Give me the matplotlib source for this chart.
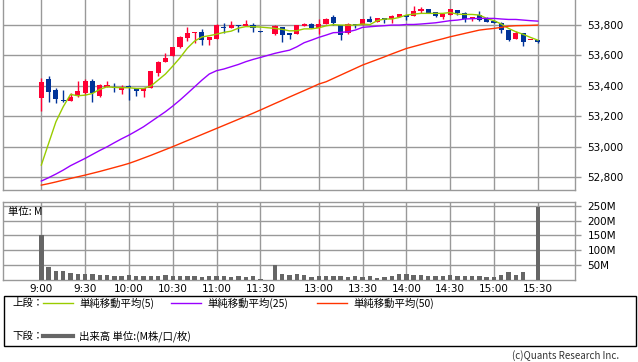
import numpy as np
import pandas as pd
import matplotlib
matplotlib.use("Agg")
import matplotlib.pyplot as plt
from matplotlib.lines import Line2D
from matplotlib.patches import Rectangle

plt.rcParams['font.family'] = ['Noto Sans CJK JP', 'DejaVu Sans']

# 5-minute bars, morning 9:00-11:30 and afternoon 12:30-15:30
am = pd.date_range("2025-01-01 09:00", "2025-01-01 11:30", freq="5min")
pm = pd.date_range("2025-01-01 12:30", "2025-01-01 15:30", freq="5min")
times = [t.strftime("%-H:%M") for t in am] + [t.strftime("%-H:%M") for t in pm]

opens = [53322, 53445, 53372, 53307, 53302, 53339, 53354, 53431, 53335, 53394,
         53394, 53372, 53399, 53383, 53368, 53388, 53482, 53556, 53594, 53657,
         53717, 53745, 53756, 53701, 53708, 53789, 53778, 53802, 53795, 53800,
         53763,
         53743, 53787, 53750, 53741, 53794, 53807, 53778, 53809, 53855, 53800,
         53745, 53807, 53800, 53841, 53822, 53844, 53839, 53855, 53866, 53861,
         53892, 53903, 53883, 53855, 53866, 53899, 53877, 53839, 53866, 53839,
         53828, 53815, 53767, 53708, 53745, 53701, 53701]
highs = [53454, 53465, 53383, 53372, 53350, 53432, 53443, 53445, 53410, 53430,
         53416, 53405, 53405, 53383, 53383, 53497, 53563, 53618, 53657, 53730,
         53789, 53756, 53776, 53723, 53809, 53812, 53824, 53802, 53833, 53811,
         53763,
         53800, 53789, 53750, 53800, 53816, 53811, 53837, 53844, 53864, 53800,
         53811, 53807, 53842, 53859, 53844, 53844, 53866, 53870, 53866, 53925,
         53916, 53903, 53883, 53870, 53903, 53899, 53888, 53855, 53892, 53853,
         53833, 53822, 53767, 53761, 53745, 53701, 53701]
lows = [53236, 53296, 53289, 53296, 53302, 53329, 53340, 53296, 53330, 53390,
        53361, 53346, 53310, 53335, 53330, 53383, 53465, 53554, 53594, 53651,
        53695, 53684, 53666, 53666, 53708, 53750, 53778, 53756, 53795, 53756,
        53756,
        53736, 53690, 53708, 53741, 53794, 53778, 53739, 53809, 53800, 53703,
        53740, 53778, 53800, 53822, 53822, 53815, 53815, 53855, 53831, 53861,
        53881, 53877, 53850, 53839, 53866, 53866, 53822, 53828, 53828, 53817,
        53811, 53750, 53695, 53708, 53662, 53701, 53684]
closes = [53427, 53361, 53311, 53298, 53328, 53366, 53431, 53350, 53405, 53405,
          53383, 53386, 53383, 53368, 53383, 53497, 53559, 53585, 53657, 53723,
          53750, 53756, 53701, 53723, 53800, 53778, 53800, 53793, 53807, 53778,
          53756,
          53794, 53736, 53736, 53800, 53804, 53778, 53807, 53842, 53811, 53738,
          53809, 53800, 53839, 53822, 53844, 53833, 53861, 53870, 53855, 53892,
          53905, 53877, 53861, 53870, 53903, 53877, 53839, 53855, 53833, 53817,
          53815, 53767, 53701, 53745, 53690, 53701, 53686]

ma5 = [52879, 53022, 53164, 53263, 53344, 53335, 53339, 53350, 53377, 53394,
       53390, 53388, 53388, 53383, 53383, 53399, 53438, 53478, 53530, 53585,
       53648, 53695, 53722, 53730, 53740, 53752, 53760, 53780, 53790, 53789,
       53787,
       53778, 53772, 53762, 53763, 53775, 53775, 53782, 53795, 53803, 53800,
       53800, 53800, 53807, 53803, 53829, 53840, 53840, 53850, 53866, 53872,
       53877, 53877, 53877, 53877, 53883, 53872, 53870, 53870, 53866, 53844,
       53829, 53807, 53778, 53756, 53739, 53719, 53701]
ma25 = [52774, 52796, 52820, 52846, 52875, 52899, 52923, 52949, 52975, 52999,
        53026, 53052, 53076, 53103, 53131, 53164, 53197, 53230, 53267, 53307,
        53350, 53394, 53438, 53478, 53500, 53511, 53526, 53541, 53559, 53574,
        53587,
        53614, 53625, 53635, 53657, 53684, 53701, 53719, 53734, 53750, 53752,
        53756, 53767, 53785, 53789, 53793, 53796, 53800, 53800, 53804, 53804,
        53807, 53811, 53815, 53822, 53829, 53833, 53840, 53842, 53844, 53844,
        53844, 53840, 53837, 53837, 53833, 53829, 53826]
ma50 = [52747, 52757, 52768, 52780, 52791, 52802, 52813, 52825, 52837, 52850,
        52863, 52876, 52890, 52907, 52925, 52943, 52962, 52981, 53000, 53020,
        53040, 53060, 53080, 53100, 53120, 53140, 53160, 53180, 53200, 53220,
        53241,
        53284, 53305, 53327, 53348, 53369, 53390, 53412, 53427, 53449, 53471,
        53493, 53515, 53537, 53555, 53573, 53591, 53610, 53628, 53646, 53659,
        53672, 53685, 53698, 53710, 53723, 53734, 53745, 53756, 53767, 53773,
        53778, 53785, 53793, 53796, 53797, 53798, 53800]

volume = [150, 44, 30, 30, 22, 20, 20, 19, 17, 17,
          13, 13, 17, 13, 13, 13, 13, 17, 13, 13,
          13, 13, 10, 13, 13, 13, 9, 13, 9, 13,
          4,
          50, 20, 17, 20, 17, 9, 13, 13, 13, 13,
          9, 13, 9, 13, 8, 9, 13, 20, 20, 17,
          17, 13, 13, 13, 17, 13, 13, 13, 13, 9,
          9, 17, 28, 17, 28, 1, 244]

xticklabels = ["9:00", "9:30", "10:00", "10:30", "11:00", "11:30",
               "13:00", "13:30", "14:00", "14:30", "15:00", "15:30"]
price_ticks = [52800, 53000, 53200, 53400, 53600, 53800]
vol_ticks = [50, 100, 150, 200, 250]

RED = "#ff0033"
BLUE = "#003399"
GRID = "#999999"

o = np.array(opens, float)
h = np.array(highs, float)
l = np.array(lows, float)
c = np.array(closes, float)
# one empty slot over the lunch break
pm_labels = set(t.strftime("%-H:%M") for t in pm)
x = np.arange(len(times)) + np.array([t in pm_labels for t in times], int)
tick_x = [x[times.index(t)] for t in xticklabels]

W, H = 638, 362
fig = plt.figure(figsize=(W / 100, H / 100), dpi=100)
ax = fig.add_axes([3 / W, 1 - 190 / H, 572 / W, 190 / H])
axv = fig.add_axes([3 / W, 1 - 280 / H, 572 / W, 78.5 / H])

up = c >= o
col = np.where(up, RED, BLUE)
ax.vlines(x, l, h, colors=col, lw=1, zorder=3)
ax.bar(x, np.maximum(np.abs(c - o), 6), bottom=np.minimum(o, c), width=0.7,
       color=col, linewidth=0, zorder=4)
ax.plot(x, ma5, color="#99cc00", lw=1, zorder=5)
ax.plot(x, ma25, color="#9900ff", lw=1, zorder=5)
ax.plot(x, ma50, color="#ff3300", lw=1, zorder=5)

axv.bar(x, volume, width=0.6, color="#666666", linewidth=0, zorder=3)

xlim = (-5.25, 73.1)
for a in (ax, axv):
    a.set_xlim(*xlim)
    a.set_xticks(tick_x)
    a.grid(True, color=GRID, lw=1, zorder=0)
    a.yaxis.tick_right()
    a.tick_params(axis="y", length=4, color=GRID, width=1, pad=5, labelsize=7.5)
    for s in a.spines.values():
        s.set_color(GRID)
        s.set_linewidth(1)

ax.set_ylim(52715, 53965)
ax.set_yticks(price_ticks)
ax.set_yticklabels([f"{v:,}" for v in price_ticks], family="DejaVu Sans")
ax.set_xticklabels([])
ax.tick_params(axis="x", length=0)
ax.spines["top"].set_visible(False)

axv.set_ylim(0, 264)
axv.set_yticks(vol_ticks)
axv.set_yticklabels([f"{v}M" for v in vol_ticks], family="DejaVu Sans")
axv.set_xticklabels(xticklabels, family="DejaVu Sans")
axv.tick_params(axis="x", length=0, pad=3, labelsize=7.5)
axv.text(5 / 572, 0.93, "単位: M", transform=axv.transAxes, fontsize=7.5,
         ha="left", va="top")

# legend box
fig.patches.append(Rectangle((3.5 / W, 1 - 346 / H), 632 / W, 50 / H,
                             transform=fig.transFigure, fill=False,
                             edgecolor="black", lw=1))
ly1 = 1 - 303 / H
ly2 = 1 - 336 / H
fig.text(12 / W, ly1, "上段：", fontsize=7.5, va="center")
for x0, color, label in [(43, "#99cc00", "単純移動平均(5)"),
                         (171, "#9900ff", "単純移動平均(25)"),
                         (317, "#ff3300", "単純移動平均(50)")]:
    fig.lines.append(Line2D([x0 / W, (x0 + 30) / W], [ly1, ly1], color=color,
                            lw=1, transform=fig.transFigure))
    fig.text((x0 + 36) / W, ly1, label, fontsize=7.5, va="center")
fig.text(12 / W, ly2, "下段：", fontsize=7.5, va="center")
fig.lines.append(Line2D([43 / W, 73 / W], [ly2, ly2], color="#666666", lw=3,
                        transform=fig.transFigure))
fig.text(79 / W, ly2, "出来高 単位:(M株/口/枚)", fontsize=7.5, va="center")

fig.text(619 / W, 1 - 356 / H, "(c)Quants Research Inc.", fontsize=7,
         ha="right", va="center", color="#333333")

fig.savefig("out.png", dpi=100)
